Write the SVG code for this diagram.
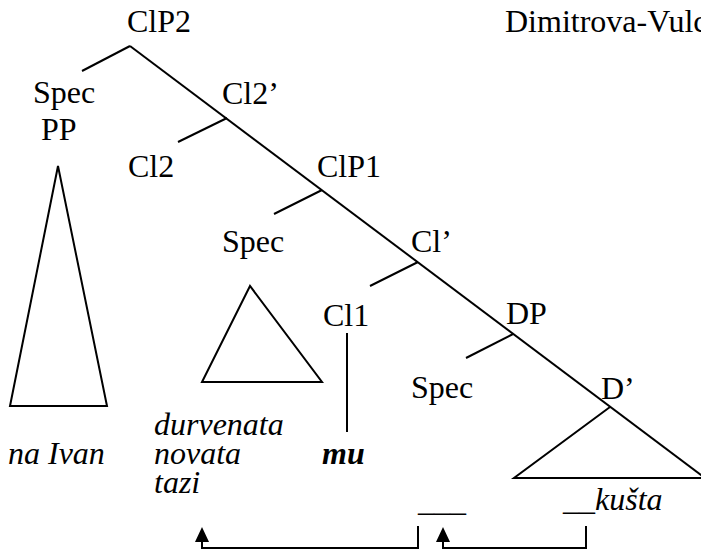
<svg xmlns="http://www.w3.org/2000/svg" width="701" height="550" viewBox="0 0 701 550">
<style>
text{font-family:"Liberation Serif","Times New Roman",Times,serif;font-size:32px;fill:#000}
.it{font-style:italic}
.bi{font-style:italic;font-weight:bold}
.ln{fill:none;stroke:#000;stroke-width:2}
</style>
<defs>
<marker id="ah" markerUnits="userSpaceOnUse" markerWidth="15" markerHeight="14" viewBox="0 0 15 14" refX="0" refY="7" orient="auto">
<path d="M0,0 L15,7 L0,14 z" fill="#000"/>
</marker>
</defs>
<rect width="701" height="550" fill="#fff"/>
<g id="connectors">
<path class="ln" d="M130,46 L705,478"/>
<path class="ln" d="M130,46 L82,71"/>
<path class="ln" d="M227,118 L178,142"/>
<path class="ln" d="M322,190 L274,214"/>
<path class="ln" d="M418,262 L370,286"/>
<path class="ln" d="M513,334 L466,358"/>
<path class="ln" d="M347,333 V432"/>
<path class="ln" d="M418,526 V548 H202 V542" marker-end="url(#ah)"/>
<path class="ln" d="M586,526 V548 H443 V542" marker-end="url(#ah)"/>
</g>
<g id="title"><text x="505" y="32">Dimitrova-Vulc</text></g>
<g id="ClP2"><text x="127" y="32">ClP2</text></g>
<g id="SpecPP"><text x="33" y="103">Spec</text><text x="41" y="140">PP</text>
<path class="ln" d="M58,166 L10,406 H107 Z"/></g>
<g id="Cl2bar"><text x="222" y="104">Cl2’</text></g>
<g id="Cl2"><text x="128" y="177">Cl2</text></g>
<g id="ClP1"><text x="317" y="177">ClP1</text></g>
<g id="Spec1"><text x="222" y="252">Spec</text>
<path class="ln" d="M250,286 L202,382 H322 Z"/></g>
<g id="Clbar"><text x="411" y="252">Cl’</text></g>
<g id="Cl1"><text x="323" y="326">Cl1</text></g>
<g id="DP"><text x="506" y="324">DP</text></g>
<g id="Spec2"><text x="411" y="398">Spec</text></g>
<g id="Dbar"><text x="601" y="399">D’</text>
<path class="ln" d="M610,407 L514,478 H705"/></g>
<g id="naIvan"><text class="it" x="8" y="464">na Ivan</text></g>
<g id="durvenata"><text class="it"><tspan x="154" y="435">durvenata</tspan><tspan x="154" y="464">novata</tspan><tspan x="154" y="493">tazi</tspan></text></g>
<g id="mu"><text class="bi" x="322" y="464">mu</text></g>
<g id="gap1"><text x="418" y="511">___</text></g>
<g id="kusta"><text x="563" y="510">__<tspan class="it">kušta</tspan></text></g>
</svg>
